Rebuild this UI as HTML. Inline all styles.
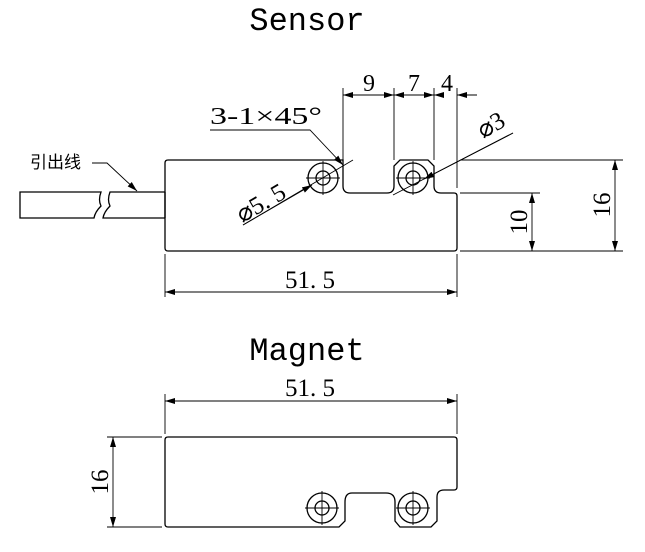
<!DOCTYPE html>
<html><head><meta charset="utf-8"><style>
html,body{margin:0;padding:0;background:#fff;}
svg text{font-family:"Liberation Serif","Noto Serif CJK SC",serif;fill:#000;}
svg text.m{font-family:"Liberation Mono",monospace;}
</style></head><body>
<svg width="645" height="547" viewBox="0 0 645 547" xmlns="http://www.w3.org/2000/svg">
<defs>
<marker id="a" viewBox="0 0 10 6" refX="10" refY="3" markerWidth="10" markerHeight="6" orient="auto-start-reverse" markerUnits="userSpaceOnUse"><path d="M0,0 L10,3 L0,6 Z" fill="#000"/></marker>
</defs>
<g fill="none" stroke="#000" stroke-width="1.3">
<path d="M168,160 H343 V186 Q343,193 350,193 H387 Q394,193 394,186 V166 L400,160 H428 L434,166 V186 Q434,193 441,193 H454 Q457,193 457,196 V248 Q457,251 454,251 H168 Q165,251 165,248 V163 Q165,160 168,160 Z"/>
<circle cx="323" cy="178" r="15"/><circle cx="323" cy="178" r="7"/>
<circle cx="413" cy="178" r="15"/><circle cx="413" cy="178" r="7"/>
<g stroke-width="0.9">
<path d="M306,178 H340 M323,161 V195 M396,178 H430 M413,161 V195"/>
</g>
<path d="M165,192 H110 Q107,200 110,206 Q104,212 103,218 H165 M20,192 H101 Q98,200 101,206 Q95,212 94,218 H20 Z"/>
<path d="M165,192 V218"/>
</g>
<g fill="none" stroke="#000" stroke-width="0.9">
<path d="M92,163 H107 L137,191" marker-end="url(#a)"/>
<path d="M210,130 H310 L343,165" marker-end="url(#a)"/>
<path d="M243,225 L353,160"/><path d="M243,225 L312,185" marker-end="url(#a)"/>
<path d="M513,133 L393,195"/><path d="M513,133 L424,179" marker-end="url(#a)"/>
<path d="M343,88 V160 M394,88 V160 M434,88 V160 M457,88 V188"/>
<path d="M343,95 H394" marker-start="url(#a)" marker-end="url(#a)"/>
<path d="M394,95 H434" marker-start="url(#a)" marker-end="url(#a)"/>
<path d="M434,95 H444" marker-start="url(#a)"/>
<path d="M457,95 H477" marker-start="url(#a)"/>
<path d="M460,160 H623 M460,193 H540 M460,251 H623"/>
<path d="M615,160 V251" marker-start="url(#a)" marker-end="url(#a)"/>
<path d="M532,193 V251" marker-start="url(#a)" marker-end="url(#a)"/>
<path d="M165,254 V297 M457,254 V297"/>
<path d="M165,292 H457" marker-start="url(#a)" marker-end="url(#a)"/>
<path d="M165,394 V434 M457,394 V434"/>
<path d="M165,401 H457" marker-start="url(#a)" marker-end="url(#a)"/>
<path d="M107,437 H162 M107,527 H162"/>
<path d="M113,437 V527" marker-start="url(#a)" marker-end="url(#a)"/>
</g>
<g fill="none" stroke="#000" stroke-width="1.3">
<path d="M168,437 H454 Q457,437 457,440 V487 Q457,490 454,490 H444 Q437,490 437,497 V521 L431,527 H400 L395,521 V502 Q395,493 386,493 H352 Q345,493 345,502 V521 L339,527 H168 Q165,527 165,524 V440 Q165,437 168,437 Z"/>
<circle cx="322" cy="508" r="15"/><circle cx="322" cy="508" r="7"/>
<circle cx="413" cy="508" r="15"/><circle cx="413" cy="508" r="7"/>
<g stroke-width="0.9"><path d="M305,508 H339 M322,491 V525 M396,508 H430 M413,491 V525"/></g>
</g>
<text class="m" x="307" y="30" font-size="32" text-anchor="middle">Sensor</text>
<text class="m" x="307" y="360" font-size="32" text-anchor="middle">Magnet</text>
<text x="30" y="168" font-size="17" style="font-family:'Noto Sans CJK SC',sans-serif">引出线</text>
<text x="210" y="124" font-size="24" textLength="112" lengthAdjust="spacingAndGlyphs">3-1×45°</text>
<text x="369" y="91" font-size="24" text-anchor="middle">9</text>
<text x="414" y="91" font-size="24" text-anchor="middle">7</text>
<text x="447" y="91" font-size="24" text-anchor="middle">4</text>
<text x="310" y="288" font-size="25" text-anchor="middle">51. 5</text>
<text x="310" y="396" font-size="25" text-anchor="middle">51. 5</text>
<text transform="translate(610,205) rotate(-90)" font-size="25" text-anchor="middle">16</text>
<text transform="translate(527,222) rotate(-90)" font-size="25" text-anchor="middle">10</text>
<text transform="translate(108,482) rotate(-90)" font-size="25" text-anchor="middle">16</text>
<text transform="translate(265,210) rotate(-30)" font-size="25" text-anchor="middle">⌀5. 5</text>
<text transform="translate(495,132) rotate(-30)" font-size="25" text-anchor="middle">⌀3</text>
</svg>
</body></html>
